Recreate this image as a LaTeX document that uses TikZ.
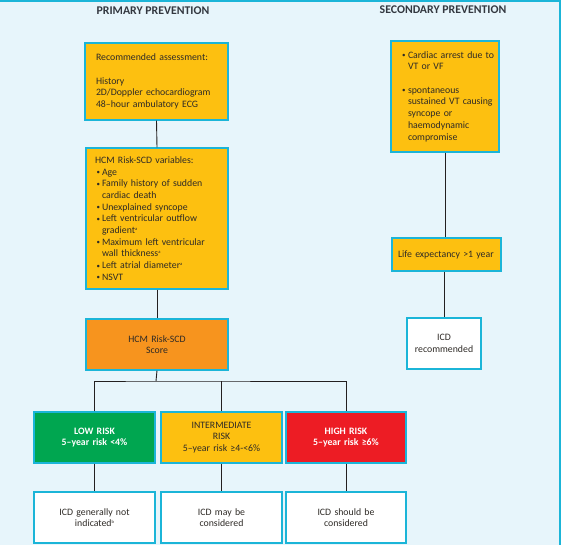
\documentclass[tikz,border=0pt]{standalone}
\usepackage{fontspec}
\setmainfont{Carlito}
\definecolor{bgc}{HTML}{E7F5FB}
\definecolor{tealc}{HTML}{1BB5D8}
\definecolor{yel}{HTML}{FDC010}
\definecolor{ora}{HTML}{F7941E}
\definecolor{grn}{HTML}{00A650}
\definecolor{redc}{HTML}{ED1C24}
\definecolor{txt}{HTML}{2E2A26}
\definecolor{ttl}{HTML}{333840}
\definecolor{linec}{HTML}{231F20}
\newcommand\smallbul{\raisebox{0.6pt}{\fontsize{7}{7}\selectfont\textbullet}}
\newcommand\bul{\makebox[7pt][l]{\hspace*{1.5pt}\smallbul}}
\newcommand\cont{\hspace*{7pt}}
\newcommand\bulb{\makebox[6pt][l]{\smallbul}}
\newcommand\contb{\hspace*{6pt}}
\newcommand\supr[1]{\raisebox{3pt}{\fontsize{4.5}{5}\selectfont #1}}
\begin{document}
\begin{tikzpicture}[x=1pt,y=-1pt,
  box/.style={draw=tealc, line width=1.1pt, inner ysep=2pt, text=txt,
    font=\fontsize{9.8}{11.7}\selectfont},
  ybox/.style={box, fill=yel, align=left},
  wbox/.style={box, fill=white, align=center},
  riskbox/.style={box, align=center, minimum height=51pt, inner xsep=4pt},
  title/.style={font=\bfseries\fontsize{11.8}{13}\selectfont, text=ttl},
  conn/.style={draw=linec, line width=0.9pt}]
\fill[bgc] (0,0) rectangle (561,545);
\useasboundingbox (0,0) rectangle (561,545);
\draw[tealc, line width=1.8pt] (0,0.9) -- (560.1,0.9) -- (560.1,545);

\node[title] (ptitle) at (153,11) {PRIMARY PREVENTION};
\node[title] (stitle) at (443,10) {SECONDARY PREVENTION};

\node[ybox, text width=121pt, inner xsep=11pt, minimum height=77pt] (assess) at (156.5,81.5)
  {Recommended assessment:\\[11.7pt]History\\\mbox{2D/Doppler echocardiogram}\\48–hour ambulatory ECG};

\node[ybox, text width=124pt, inner xsep=9pt, minimum height=141pt] (vars) at (157,218.5)
  {HCM Risk-SCD variables:\\
   \bul Age\\
   \bul \mbox{Family history of sudden}\\
   \cont cardiac death\\
   \bul Unexplained syncope\\
   \bul \mbox{Left ventricular outflow}\\
   \cont gradient\supr{a}\\
   \bul \mbox{Maximum left ventricular}\\
   \cont wall thickness\supr{a}\\
   \bul Left atrial diameter\supr{a}\\
   \bul NSVT};

\node[box, fill=ora, align=center, text width=134pt, inner xsep=4pt, minimum height=51pt] (score) at (157,344.5)
  {HCM Risk-SCD\\Score};

\node[riskbox, fill=grn, text width=113pt, text=white, font=\bfseries\fontsize{9.8}{11.7}\selectfont] (low) at (94.5,437.5)
  {LOW RISK\\5–year risk <4\%};
\node[riskbox, fill=yel, text width=113pt] (int) at (221.5,437.5)
  {INTERMEDIATE\\RISK\\5–year risk ≥4-<6\%};
\node[riskbox, fill=redc, text width=112pt, text=white, font=\bfseries\fontsize{9.8}{11.7}\selectfont] (high) at (346,437.5)
  {HIGH RISK\\5–year risk ≥6\%};

\node[wbox, text width=113pt, inner xsep=4pt, minimum height=51pt] (icdlow) at (94.5,517.5)
  {ICD generally not\\indicated\supr{b}};
\node[wbox, text width=113pt, inner xsep=4pt, minimum height=51pt] (icdint) at (221.5,517.5)
  {ICD may be\\considered};
\node[wbox, text width=112pt, inner xsep=4pt, minimum height=51pt] (icdhigh) at (346,517.5)
  {ICD should be\\considered};

\node[ybox, text width=86pt, inner xsep=11pt, minimum height=111pt] (sec) at (445,96.5)
  {\bulb \mbox{Cardiac arrest due to}\\
   \contb VT or VF\\[11.7pt]
   \bulb spontaneous\\
   \contb \mbox{sustained VT causing}\\
   \contb syncope or\\
   \contb haemodynamic\\
   \contb compromise};

\node[ybox, text width=97pt, inner xsep=6pt, minimum height=33pt] (life) at (446.5,254.5)
  {\mbox{Life expectancy >1 year}};

\node[wbox, text width=66pt, inner xsep=4pt, minimum height=51pt] (icdrec) at (444,343.5)
  {ICD\\recommended};

\coordinate (split) at (156,381);

\draw[conn] (assess.south) -- (vars.north);
\draw[conn] (vars.south) -- (score.north);
\draw[conn] (score.south) -- (split);
\draw[conn] (low.north) |- (split) -| (high.north);
\draw[conn] (int.north) -- (int.north |- split);
\draw[conn] (low.south) -- (icdlow.north);
\draw[conn] (int.south) -- (icdint.north);
\draw[conn] (high.south) -- (icdhigh.north);
\draw[conn] (sec.south) -- (life.north -| sec.south);
\draw[conn] (life.south -| icdrec.north) -- (icdrec.north);
\end{tikzpicture}
\end{document}
